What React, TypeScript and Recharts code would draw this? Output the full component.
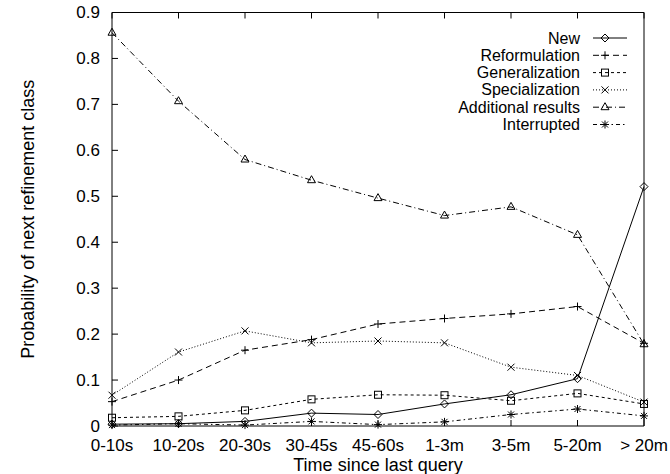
import { LineChart, Line, XAxis, YAxis } from 'recharts'

const categories = ['0-10s', '10-20s', '20-30s', '30-45s', '45-60s', '1-3m', '3-5m', '5-20m', '> 20m']

const newQuery = [0.004, 0.005, 0.01, 0.028, 0.025, 0.048, 0.068, 0.103, 0.521]
const reformulation = [0.053, 0.1, 0.165, 0.188, 0.222, 0.234, 0.244, 0.26, 0.18]
const generalization = [0.018, 0.021, 0.034, 0.058, 0.068, 0.067, 0.055, 0.071, 0.048]
const specialization = [0.067, 0.161, 0.207, 0.181, 0.185, 0.181, 0.128, 0.11, 0.052]
const additional = [0.856, 0.707, 0.58, 0.535, 0.496, 0.458, 0.477, 0.416, 0.178]
const interrupted = [0.002, 0.005, 0.002, 0.01, 0.003, 0.009, 0.025, 0.037, 0.022]

const yTicks = [0, 0.1, 0.2, 0.3, 0.4, 0.5, 0.6, 0.7, 0.8, 0.9]
const yTickLabels = ['0', '0.1', '0.2', '0.3', '0.4', '0.5', '0.6', '0.7', '0.8', '0.9']
const xTicks = categories.map((_, i) => i)

const FONT = '"Liberation Sans", Arial, Helvetica, sans-serif'
const TICK_LEN = 6

type MarkerKind = 'diamond' | 'plus' | 'square' | 'cross' | 'triangle' | 'star'

const series: { key: string; name: string; values: number[]; dash?: string; marker: MarkerKind }[] = [
  { key: 'new', name: 'New', values: newQuery, marker: 'diamond' },
  { key: 'reform', name: 'Reformulation', values: reformulation, dash: '6 4', marker: 'plus' },
  { key: 'gen', name: 'Generalization', values: generalization, dash: '3 3', marker: 'square' },
  { key: 'spec', name: 'Specialization', values: specialization, dash: '1 2', marker: 'cross' },
  { key: 'add', name: 'Additional results', values: additional, dash: '6 3 1 3', marker: 'triangle' },
  { key: 'int', name: 'Interrupted', values: interrupted, dash: '4 3 1.5 3', marker: 'star' },
]

const data = categories.map((label, i) => {
  const row: Record<string, number | string> = { idx: i, label }
  series.forEach((s) => (row[s.key] = s.values[i]))
  return row
})

function Marker({ kind, cx, cy }: { kind: MarkerKind; cx: number; cy: number }) {
  const s = 4
  const p = { fill: 'none', stroke: '#000', strokeWidth: 1 }
  switch (kind) {
    case 'diamond':
      return <path {...p} d={`M${cx},${cy - s}L${cx + s},${cy}L${cx},${cy + s}L${cx - s},${cy}Z`} />
    case 'plus':
      return <path {...p} d={`M${cx - s},${cy}H${cx + s}M${cx},${cy - s}V${cy + s}`} />
    case 'square':
      return <rect {...p} x={cx - 3.5} y={cy - 3.5} width={7} height={7} />
    case 'cross':
      return <path {...p} d={`M${cx - 3.5},${cy - 3.5}L${cx + 3.5},${cy + 3.5}M${cx - 3.5},${cy + 3.5}L${cx + 3.5},${cy - 3.5}`} />
    case 'triangle':
      return <path {...p} d={`M${cx},${cy - 4.5}L${cx + 4},${cy + 2.5}L${cx - 4},${cy + 2.5}Z`} />
    default:
      return (
        <path
          {...p}
          d={`M${cx - s},${cy}H${cx + s}M${cx},${cy - s}V${cy + s}M${cx - 3},${cy - 3}L${cx + 3},${cy + 3}M${cx - 3},${cy + 3}L${cx + 3},${cy - 3}`}
        />
      )
  }
}

// ticks drawn inward, gnuplot style
const LeftTick = (props: any) => {
  const { x, y, index } = props
  return (
    <g>
      <line x1={x} x2={x + TICK_LEN} y1={y} y2={y} stroke="#000" />
      <text x={x - 12} y={y} textAnchor="end" dominantBaseline="central" fontSize={17} fontFamily={FONT} fill="#000">
        {yTickLabels[index]}
      </text>
    </g>
  )
}
const RightTick = (props: any) => <line x1={props.x} x2={props.x - TICK_LEN} y1={props.y} y2={props.y} stroke="#000" />
const BottomTick = (props: any) => {
  const { x, y, payload } = props
  return (
    <g>
      <line x1={x} x2={x} y1={y} y2={y - TICK_LEN} stroke="#000" />
      <text x={x} y={y + 19} textAnchor="middle" dominantBaseline="central" fontSize={17} fontFamily={FONT} fill="#000">
        {categories[payload.value]}
      </text>
    </g>
  )
}
const TopTick = (props: any) => <line x1={props.x} x2={props.x} y1={props.y} y2={props.y + TICK_LEN} stroke="#000" />

const YTitle = (props: any) => {
  const { viewBox } = props
  const cx = viewBox.x + 16
  const cy = viewBox.y + viewBox.height / 2
  return (
    <text x={cx} y={cy} transform={`rotate(-90 ${cx} ${cy})`} textAnchor="middle" dominantBaseline="central" fontSize={18} fontFamily={FONT} fill="#000">
      Probability of next refinement class
    </text>
  )
}
const XTitle = (props: any) => {
  const { viewBox } = props
  const cx = viewBox.x + viewBox.width / 2
  return (
    <text x={cx} y={465} textAnchor="middle" dominantBaseline="central" fontSize={18} fontFamily={FONT} fill="#000">
      Time since last query
    </text>
  )
}

function Key() {
  return (
    <svg width={670} height={474} style={{ position: 'absolute', left: 0, top: 0, pointerEvents: 'none' }}>
      {series.map((s, i) => {
        const y = 38 + i * 17.3
        return (
          <g key={s.key}>
            <text x={580} y={y} textAnchor="end" dominantBaseline="central" fontSize={16} fontFamily={FONT} fill="#000">
              {s.name}
            </text>
            <line x1={593} x2={627} y1={y} y2={y} stroke="#000" strokeDasharray={s.dash} />
            <Marker kind={s.marker} cx={605} cy={y} />
          </g>
        )
      })}
    </svg>
  )
}

export default function App() {
  return (
    <div style={{ position: 'absolute', left: 0, top: 0, width: 670, height: 474, background: '#fff' }}>
      <LineChart width={670} height={474} data={data} margin={{ top: 11.5, right: 25, left: 12, bottom: 0 }}>
        <XAxis
          xAxisId="bottom"
          dataKey="idx"
          type="number"
          domain={[0, 8]}
          ticks={xTicks}
          height={48}
          axisLine={{ stroke: '#000' }}
          tickLine={false}
          tickSize={0}
          tickMargin={0}
          tick={<BottomTick />}
          interval={0}
          label={<XTitle />}
        />
        <XAxis
          xAxisId="top"
          orientation="top"
          dataKey="idx"
          type="number"
          domain={[0, 8]}
          ticks={xTicks}
          height={1}
          axisLine={{ stroke: '#000' }}
          tickLine={false}
          tickSize={0}
          tickMargin={0}
          tick={<TopTick />}
          interval={0}
        />
        <YAxis
          yAxisId="left"
          type="number"
          domain={[0, 0.9]}
          ticks={yTicks}
          width={100}
          axisLine={{ stroke: '#000' }}
          tickLine={false}
          tickSize={0}
          tickMargin={0}
          tick={<LeftTick />}
          interval={0}
          label={<YTitle />}
        />
        <YAxis
          yAxisId="right"
          orientation="right"
          type="number"
          domain={[0, 0.9]}
          ticks={yTicks}
          width={1}
          axisLine={{ stroke: '#000' }}
          tickLine={false}
          tickSize={0}
          tickMargin={0}
          tick={<RightTick />}
          interval={0}
        />
        {series.map((s) => (
          <Line
            key={s.key}
            xAxisId="bottom"
            yAxisId="left"
            type="linear"
            dataKey={s.key}
            name={s.name}
            stroke="#000"
            strokeWidth={1}
            strokeDasharray={s.dash}
            isAnimationActive={false}
            dot={(p: any) => <Marker key={`${s.key}-${p.index}`} kind={s.marker} cx={p.cx} cy={p.cy} />}
            activeDot={false}
          />
        ))}
      </LineChart>
      <Key />
    </div>
  )
}
